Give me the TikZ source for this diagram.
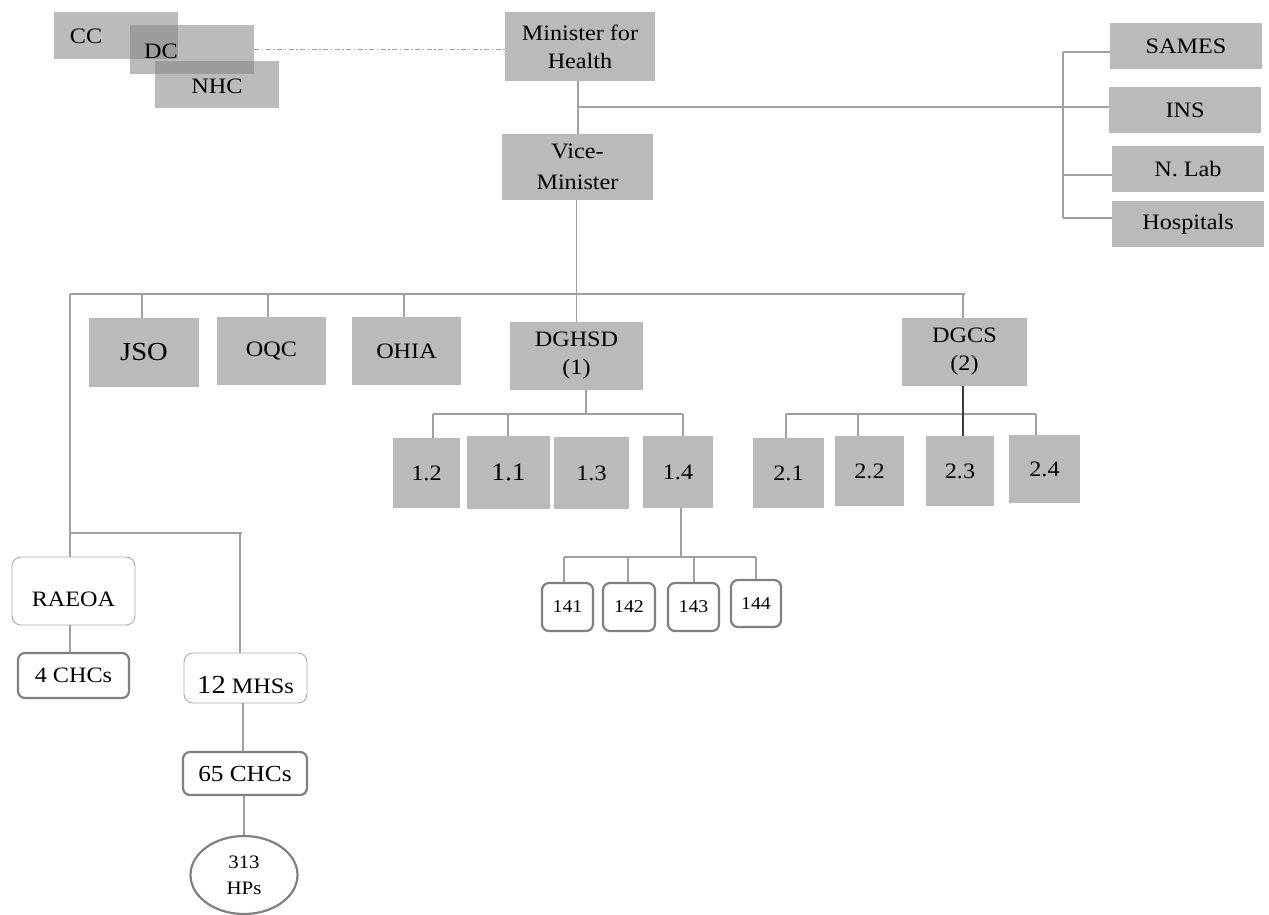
\documentclass[tikz,border=0pt]{standalone}
\usepackage{fontspec}
\setmainfont{Liberation Serif}[FakeStretch=1.1]
\usetikzlibrary{shapes.geometric}
\definecolor{boxgray}{RGB}{186,186,186}
\definecolor{linegray}{RGB}{160,160,160}
\definecolor{rgray}{RGB}{128,128,128}
\definecolor{lrgray}{RGB}{172,172,172}
\definecolor{darkline}{RGB}{60,60,60}
\newcommand\myfs[2]{\fontsize{#1}{#2}\selectfont}
\begin{document}
\begin{tikzpicture}[x=1pt,y=-1pt,
  gbox/.style={fill=boxgray,inner sep=0pt,align=center,font=\myfs{22}{28}},
  tbox/.style={fill=black!50,fill opacity=0.534,text opacity=1,inner sep=0pt,font=\myfs{22}{28}},
  txt/.style={inner sep=0pt,align=center,font=\myfs{22}{28}},
  conn/.style={draw=linegray,line width=1.1pt},
  thinr/.style={draw=lrgray,line width=0.9pt,rounded corners=9pt,fill=white,inner sep=0pt},
  thickr/.style={draw=rgray,line width=2.2pt,rounded corners=7pt,fill=white,inner sep=0pt},
]
\useasboundingbox (0,0) rectangle (1269,914);

% top-left overlapping boxes
\node[tbox,minimum width=124pt,minimum height=47pt] (cc) at (116,35.5) {};
\node[tbox,minimum width=124pt,minimum height=49pt] (dc) at (192,49.5) {};
\node[tbox,minimum width=124pt,minimum height=47pt] (nhc) at (217,84.5) {};
\node[txt] (ccT) at (86,36) {CC};
\node[txt] (dcT) at (161,51) {DC};
\node[txt] (nhcT) at (217,86) {NHC};

% minister and vice
\node[gbox,minimum width=150pt,minimum height=69pt,font=\myfs{22}{28}] (mn) at (580,46.5) {Minister for\\Health};
\node[gbox,minimum width=151pt,minimum height=66pt,font=\myfs{22}{31}] (vm) at (577.5,167) {Vice-\\Minister};
\draw[linegray,line width=1pt,dash pattern=on 5pt off 2.5pt on 1.5pt off 2.5pt] (dc.east) -- (dc.east -| mn.west);

% right column
\node[gbox,minimum width=152pt,minimum height=46pt] (sames) at (1186,46) {SAMES};
\node[gbox,minimum width=152pt,minimum height=46pt] (ins) at (1185,110) {INS};
\node[gbox,minimum width=152pt,minimum height=46pt] (nlab) at (1188,169) {N. Lab};
\node[gbox,minimum width=152pt,minimum height=46pt] (hosp) at (1188,224) {Hospitals};

\coordinate (hub) at (578,107);
\coordinate (rbus) at (1063,107);
\draw[conn] (mn.south -| hub) -- (vm.north -| hub);
\draw[conn] (hub) -- (hub -| ins.west);
\draw[conn] ([yshift=-6pt]sames.west -| rbus) -- ([yshift=6pt]hosp.west -| rbus);
\draw[conn] ([yshift=-6pt]sames.west) -- ([yshift=-6pt]sames.west -| rbus);
\draw[conn] ([yshift=-6pt]nlab.west) -- ([yshift=-6pt]nlab.west -| rbus);
\draw[conn] ([yshift=6pt]hosp.west) -- ([yshift=6pt]hosp.west -| rbus);

% second row
\node[gbox,minimum width=110pt,minimum height=69pt,font=\myfs{26}{30}] (jso) at (144,352.5) {JSO};
\node[gbox,minimum width=109pt,minimum height=68pt] (oqc) at (271.5,351) {OQC};
\node[gbox,minimum width=109pt,minimum height=68pt] (ohia) at (406.5,351) {OHIA};
\node[gbox,minimum width=133pt,minimum height=68pt] (dghsd) at (576.5,356) {DGHSD\\(1)};
\node[gbox,minimum width=125pt,minimum height=68pt] (dgcs) at (964.5,352) {DGCS\\(2)};

\coordinate (busL) at (70,294);
\coordinate (busR) at (965,294);
\draw[conn] (busL) -- (busR);
\draw[conn] (vm.south -| dghsd.north) -- (dghsd.north);
\draw[conn] ([xshift=-2pt]jso.north) -- ([xshift=-2pt]jso.north |- busL);
\draw[conn] ([xshift=-3.5pt]oqc.north) -- ([xshift=-3.5pt]oqc.north |- busL);
\draw[conn] ([xshift=-2.5pt]ohia.north) -- ([xshift=-2.5pt]ohia.north |- busL);
\draw[conn] ([xshift=-1.5pt]dgcs.north) -- ([xshift=-1.5pt]dgcs.north |- busL) -- (busR);

% DGHSD children
\node[gbox,minimum width=67pt,minimum height=70pt] (n12) at (426.5,473) {1.2};
\node[gbox,minimum width=83pt,minimum height=73pt,font=\myfs{25}{30}] (n11) at (508.5,472.5) {1.1};
\node[gbox,minimum width=75pt,minimum height=72pt] (n13) at (591.5,473) {1.3};
\node[gbox,minimum width=70pt,minimum height=72pt] (n14) at (678,472) {1.4};
\coordinate (d1stem) at (586,414);
\draw[conn] (d1stem |- dghsd.south) -- (d1stem);
\draw[conn] (433,414) coordinate (d1l) -- (683,414) coordinate (d1r);
\draw[conn] (d1l) -- (d1l |- n12.north);
\draw[conn] (508,414) coordinate (d1m) -- (d1m |- n11.north);
\draw[conn] (d1r) -- (d1r |- n14.north);

% DGCS children
\node[gbox,minimum width=71pt,minimum height=70pt] (n21) at (788.5,473) {2.1};
\node[gbox,minimum width=69pt,minimum height=70pt] (n22) at (869.5,471) {2.2};
\node[gbox,minimum width=68pt,minimum height=70pt] (n23) at (960,471) {2.3};
\node[gbox,minimum width=71pt,minimum height=68pt] (n24) at (1044.5,469) {2.4};
\draw[conn] (786,414) coordinate (d2l) -- (1036,414) coordinate (d2r);
\draw[conn] (d2l) -- (d2l |- n21.north);
\draw[conn] (858,414) coordinate (d2m) -- (d2m |- n22.north);
\draw[conn] (d2r) -- (d2r |- n24.north);
\draw[draw=darkline,line width=1.1pt] ([xshift=-1.5pt]dgcs.south) -- ([xshift=-1.5pt]dgcs.south |- n23.north);

% 1.4 children
\node[thickr,minimum width=51pt,minimum height=48pt,font=\myfs{18}{24}] (n141) at (567.5,607) {141};
\node[thickr,minimum width=52pt,minimum height=48pt,font=\myfs{18}{24}] (n142) at (629,607) {142};
\node[thickr,minimum width=51pt,minimum height=48pt,font=\myfs{18}{24}] (n143) at (693.5,607) {143};
\node[thickr,minimum width=50pt,minimum height=47pt,font=\myfs{18}{24}] (n144) at (756,603.5) {144};
\coordinate (s14) at (681,557);
\draw[conn] (s14 |- n14.south) -- (s14);
\draw[conn] (564,557) coordinate (s14l) -- (756,557) coordinate (s14r);
\draw[conn] (s14l) -- (s14l |- n141.north);
\draw[conn] (628,557) coordinate (s14a) -- (s14a |- n142.north);
\draw[conn] (694,557) coordinate (s14b) -- (s14b |- n143.north);
\draw[conn] (s14r) -- (s14r |- n144.north);

% lower left branch
\node[thinr,minimum width=123pt,minimum height=68pt] (raeoa) at (73.5,591) {};
\node[txt,font=\myfs{22}{28}] (raeoaT) at (73.5,599) {RAEOA};
\node[thickr,minimum width=111pt,minimum height=45pt,font=\myfs{22}{28}] (chc4) at (73.5,675.5) {4 CHCs};
\node[thinr,minimum width=123pt,minimum height=50pt] (mhs) at (245.5,678) {};
\node[txt,font=\myfs{22}{28}] (mhsT) at (245.5,685) {{\myfs{26}{28}12} MHSs};
\node[thickr,minimum width=124pt,minimum height=43pt,font=\myfs{23}{28}] (chc65) at (245,773.5) {65 CHCs};
\node[ellipse,draw=rgray,line width=2.2pt,fill=white,inner sep=0pt,minimum width=107pt,minimum height=78pt,align=center,font=\myfs{19}{26}] (hp) at (244,875) {313\\HPs};

\coordinate (lv) at (70,533);
\coordinate (mv) at (240,533);
\draw[conn] (busL) -- (busL |- raeoa.north);
\draw[conn] (lv) -- ([xshift=2pt]mv);
\draw[conn] (mv) -- (mv |- mhs.north);
\draw[conn] (raeoa.south -| busL) -- (chc4.north -| busL);
\draw[conn] ([xshift=-2.5pt]mhs.south) -- ([xshift=-2.5pt]mhs.south |- chc65.north);
\draw[conn] (hp.north |- chc65.south) -- (hp.north);
\end{tikzpicture}
\end{document}
